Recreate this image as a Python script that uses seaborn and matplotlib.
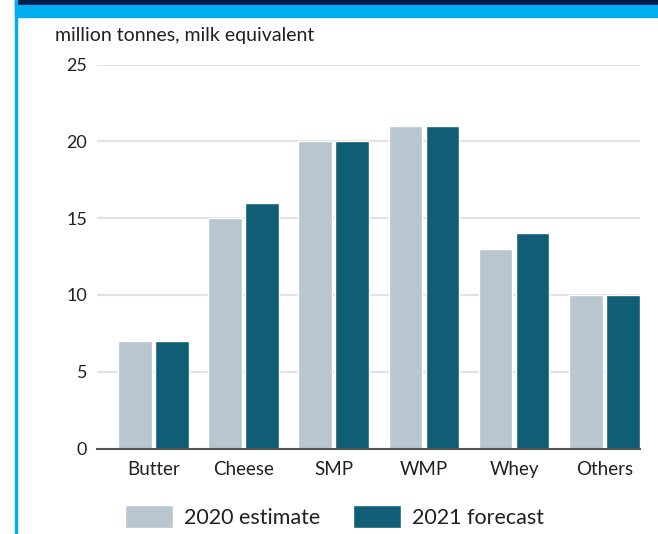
import matplotlib
matplotlib.use("Agg")
import matplotlib.pyplot as plt
import seaborn as sns
import pandas as pd
from matplotlib.patches import Rectangle

categories = ["Butter", "Cheese", "SMP", "WMP", "Whey", "Others"]
est_2020 = [7, 15, 20, 21, 13, 10]
fc_2021 = [7, 16, 20, 21, 14, 10]
series_names = ["2020 estimate", "2021 forecast"]
yticks = [0, 5, 10, 15, 20, 25]
ylabel_text = "million tonnes, milk equivalent"

df = pd.DataFrame({
    "product": categories * 2,
    "value": est_2020 + fc_2021,
    "series": [series_names[0]] * len(categories) + [series_names[1]] * len(categories),
})

sns.set_theme(style="white")
plt.rcParams["font.family"] = ["Lato", "DejaVu Sans"]

W, H = 658, 534
fig = plt.figure(figsize=(W / 100, H / 100), dpi=100)
ax = fig.add_axes([97 / W, 85.5 / H, (639.5 - 97) / W, (469.5 - 85.5) / H])

palette = {series_names[0]: "#b8c6cf", series_names[1]: "#0f5e75"}
sns.barplot(data=df, x="product", y="value", hue="series", order=categories,
            hue_order=series_names, palette=palette, width=0.82, gap=0.095,
            saturation=1, ax=ax, legend=True, zorder=3)

ax.set_xlim(-0.624, 5.39)
ax.set_ylim(0, 25)
ax.set_yticks(yticks)
ax.set_yticklabels([str(t) for t in yticks], fontsize=13, color="#231f20")
ax.yaxis.grid(True, color="#e3e3e3", lw=1.5, zorder=0)
ax.set_axisbelow(True)
for s in ["top", "right", "left"]:
    ax.spines[s].set_visible(False)
ax.spines["bottom"].set_color("#555555")
ax.spines["bottom"].set_linewidth(1.5)
ax.spines["bottom"].set_zorder(5)
ax.tick_params(axis="both", length=0)
ax.tick_params(axis="y", pad=7)
ax.tick_params(axis="x", pad=9, labelsize=13.5, labelcolor="#231f20")
ax.set_xlabel("")
ax.set_ylabel("")

handles, labels = ax.get_legend_handles_labels()
ax.get_legend().remove()
fig.legend(handles, labels, loc="center", bbox_to_anchor=(334.5 / W, 1 - 516.5 / H),
           ncol=2, frameon=False, fontsize=15.5, handlelength=2.23, handleheight=1.25,
           handletextpad=0.51, columnspacing=1.53, borderpad=0, labelcolor="#231f20")

fig.text(55 / W, 1 - 35 / H, ylabel_text, fontsize=14, color="#231f20",
         ha="left", va="center")

# decorative frame
fig.patches.append(Rectangle((15 / W, 1 - 5 / H), 1, 5 / H, transform=fig.transFigure,
                             color="#001a4b", zorder=10))
fig.patches.append(Rectangle((15 / W, 1 - 17 / H), 1, 12 / H, transform=fig.transFigure,
                             color="#00aeef", zorder=10))
fig.patches.append(Rectangle((15 / W, 0), 2 / W, 1, transform=fig.transFigure,
                             color="#00aeef", zorder=10))

fig.savefig("out.png", dpi=100)
